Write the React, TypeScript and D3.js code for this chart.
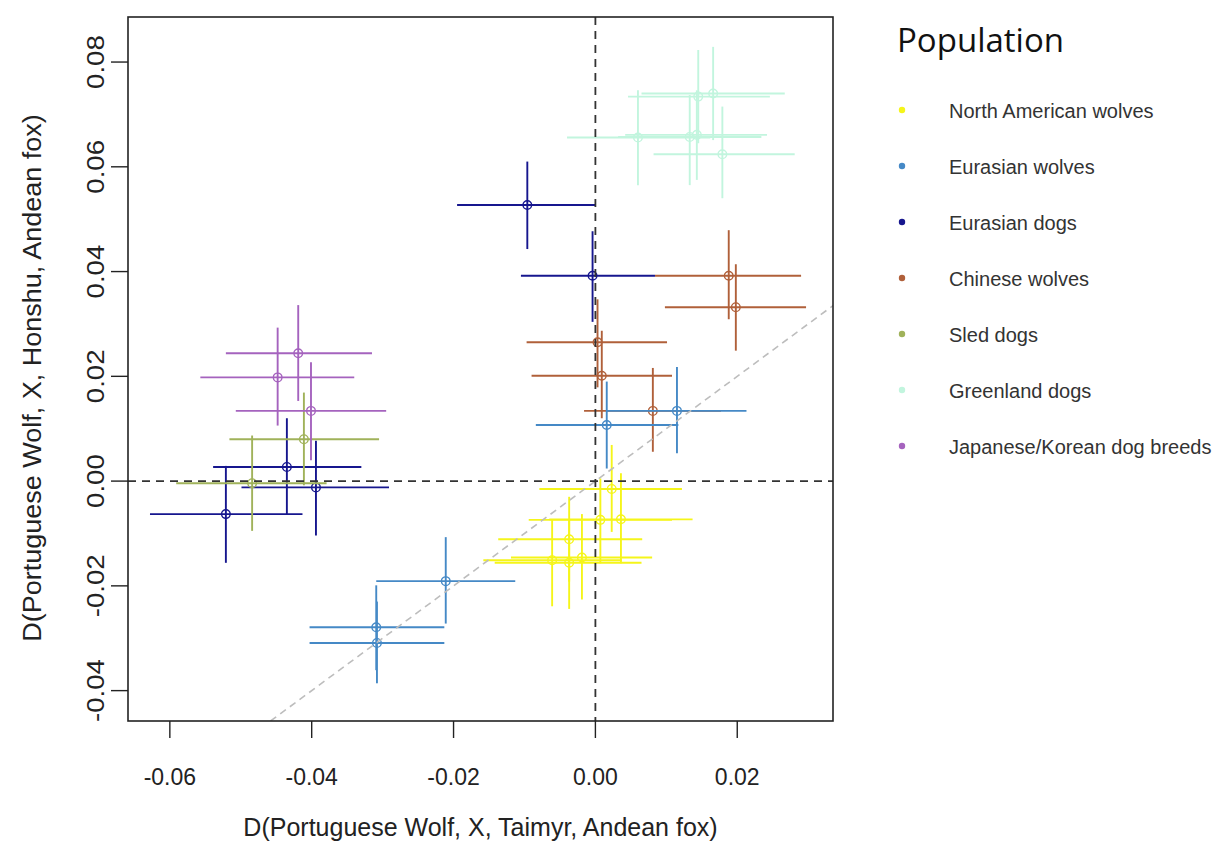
import React from "react";
import * as d3 from "d3";

type P = { x: number; y: number; xlo: number; xhi: number; ylo: number; yhi: number };

const northAmericanWolves: P[] = [
  { x: 0.0023, y: -0.0015, xlo: -0.0079, xhi: 0.0122, ylo: -0.0097, yhi: 0.0069 },
  { x: 0.0007, y: -0.0074, xlo: -0.0094, xhi: 0.0108, ylo: -0.0157, yhi: 0.0005 },
  { x: 0.0036, y: -0.0073, xlo: -0.0065, xhi: 0.0137, ylo: -0.0157, yhi: 0.0015 },
  { x: -0.0037, y: -0.0111, xlo: -0.0137, xhi: 0.0066, ylo: -0.0192, yhi: -0.003 },
  { x: -0.0061, y: -0.0151, xlo: -0.0158, xhi: 0.0037, ylo: -0.0239, yhi: -0.0073 },
  { x: -0.0019, y: -0.0146, xlo: -0.0119, xhi: 0.008, ylo: -0.0226, yhi: -0.0063 },
  { x: -0.0037, y: -0.0156, xlo: -0.0142, xhi: 0.0065, ylo: -0.0244, yhi: -0.0074 },
];

const eurasianWolves: P[] = [
  { x: 0.0115, y: 0.0134, xlo: 0.0016, xhi: 0.0213, ylo: 0.0053, yhi: 0.0218 },
  { x: 0.0016, y: 0.0107, xlo: -0.0084, xhi: 0.0117, ylo: 0.0024, yhi: 0.019 },
  { x: -0.0211, y: -0.0191, xlo: -0.0309, xhi: -0.0113, ylo: -0.0272, yhi: -0.0107 },
  { x: -0.0309, y: -0.0279, xlo: -0.0403, xhi: -0.0213, ylo: -0.0361, yhi: -0.0199 },
  { x: -0.0308, y: -0.0309, xlo: -0.0403, xhi: -0.0213, ylo: -0.0386, yhi: -0.023 },
];

const eurasianDogs: P[] = [
  { x: -0.0096, y: 0.0527, xlo: -0.0195, xhi: 0.0, ylo: 0.0443, yhi: 0.061 },
  { x: -0.0004, y: 0.0392, xlo: -0.0105, xhi: 0.0084, ylo: 0.0304, yhi: 0.0477 },
  { x: -0.0435, y: 0.0027, xlo: -0.0539, xhi: -0.033, ylo: -0.0063, yhi: 0.012 },
  { x: -0.0394, y: -0.0012, xlo: -0.0499, xhi: -0.0291, ylo: -0.0104, yhi: 0.0077 },
  { x: -0.0521, y: -0.0063, xlo: -0.0628, xhi: -0.0413, ylo: -0.0156, yhi: 0.0029 },
];

const chineseWolves: P[] = [
  { x: 0.0188, y: 0.0392, xlo: 0.0084, xhi: 0.029, ylo: 0.0309, yhi: 0.0479 },
  { x: 0.0198, y: 0.0332, xlo: 0.0098, xhi: 0.0297, ylo: 0.0249, yhi: 0.0414 },
  { x: 0.0003, y: 0.0265, xlo: -0.0097, xhi: 0.0101, ylo: 0.0179, yhi: 0.0347 },
  { x: 0.0009, y: 0.0201, xlo: -0.009, xhi: 0.0108, ylo: 0.012, yhi: 0.0287 },
  { x: 0.0081, y: 0.0134, xlo: -0.0016, xhi: 0.0177, ylo: 0.0056, yhi: 0.0216 },
];

const sledDogs: P[] = [
  { x: -0.0411, y: 0.008, xlo: -0.0516, xhi: -0.0305, ylo: -0.0008, yhi: 0.0169 },
  { x: -0.0484, y: -0.0004, xlo: -0.0591, xhi: -0.0379, ylo: -0.0095, yhi: 0.0087 },
];

const greenlandDogs: P[] = [
  { x: 0.0166, y: 0.074, xlo: 0.0065, xhi: 0.0267, ylo: 0.0651, yhi: 0.0829 },
  { x: 0.0145, y: 0.0734, xlo: 0.0046, xhi: 0.0246, ylo: 0.0645, yhi: 0.0823 },
  { x: 0.006, y: 0.0656, xlo: -0.004, xhi: 0.0162, ylo: 0.0565, yhi: 0.0746 },
  { x: 0.0133, y: 0.0657, xlo: 0.0032, xhi: 0.0234, ylo: 0.0565, yhi: 0.0737 },
  { x: 0.0143, y: 0.0661, xlo: 0.0042, xhi: 0.0242, ylo: 0.0575, yhi: 0.0746 },
  { x: 0.0179, y: 0.0624, xlo: 0.0082, xhi: 0.0281, ylo: 0.054, yhi: 0.0715 },
];

const japaneseKoreanDogs: P[] = [
  { x: -0.0419, y: 0.0244, xlo: -0.0521, xhi: -0.0315, ylo: 0.0153, yhi: 0.0336 },
  { x: -0.0448, y: 0.0198, xlo: -0.0557, xhi: -0.034, ylo: 0.0106, yhi: 0.0293 },
  { x: -0.0401, y: 0.0134, xlo: -0.0507, xhi: -0.0295, ylo: 0.004, yhi: 0.0227 },
];

const populationNames = [
  "North American wolves",
  "Eurasian wolves",
  "Eurasian dogs",
  "Chinese wolves",
  "Sled dogs",
  "Greenland dogs",
  "Japanese/Korean dog breeds",
];
const populationColors = ["#F5F51A", "#4589C6", "#16168E", "#B0603A", "#A0B25A", "#C2F5DE", "#A563BE"];
const populationData = [
  northAmericanWolves,
  eurasianWolves,
  eurasianDogs,
  chineseWolves,
  sledDogs,
  greenlandDogs,
  japaneseKoreanDogs,
];

const xTicks = [-0.06, -0.04, -0.02, 0.0, 0.02];
const yTicks = [-0.04, -0.02, 0.0, 0.02, 0.04, 0.06, 0.08];
const xDomain: [number, number] = [-0.0659, 0.0335];
const yDomain: [number, number] = [-0.0458, 0.0886];

const L = 128, R = 833, T = 17, B = 721;

export default function App() {
  const x = d3.scaleLinear().domain(xDomain).range([L, R]);
  const y = d3.scaleLinear().domain(yDomain).range([B, T]);
  const font = "'Liberation Sans', Arial, sans-serif";
  const drawOrder = [0, 3, 1, 2, 4, 5, 6];

  const d0 = Math.max(xDomain[0], yDomain[0]);
  const d1 = Math.min(xDomain[1], yDomain[1]);

  return (
    <svg width={1217} height={843} style={{ position: "absolute", left: 0, top: 0, background: "#fff" }}>
      <defs>
        <clipPath id="plotclip">
          <rect x={L} y={T} width={R - L} height={B - T} />
        </clipPath>
      </defs>
      <rect x={0} y={0} width={1217} height={843} fill="#fff" />
      <g clipPath="url(#plotclip)">
        {drawOrder.map((gi) =>
          populationData[gi].map((p, i) => (
            <g key={`${gi}-${i}`} stroke={populationColors[gi]} strokeWidth={1.9} fill="none">
              <line x1={x(p.xlo)} x2={x(p.xhi)} y1={y(p.y)} y2={y(p.y)} />
              <line x1={x(p.x)} x2={x(p.x)} y1={y(p.ylo)} y2={y(p.yhi)} />
              <circle cx={x(p.x)} cy={y(p.y)} r={4.3} strokeWidth={1.4} />
            </g>
          ))
        )}
        <line x1={x(d0)} y1={y(d0)} x2={x(d1)} y2={y(d1)} stroke="#BDBDBD" strokeWidth={1.6} strokeDasharray="7 5" />
        <line x1={x(0)} x2={x(0)} y1={T} y2={B} stroke="#333" strokeWidth={1.8} strokeDasharray="8 6" />
        <line x1={L} x2={R} y1={y(0)} y2={y(0)} stroke="#333" strokeWidth={1.8} strokeDasharray="8 6" />
      </g>
      <rect x={L} y={T} width={R - L} height={B - T} fill="none" stroke="#222" strokeWidth={1.6} />

      {xTicks.map((t) => (
        <g key={`xt${t}`}>
          <line x1={x(t)} x2={x(t)} y1={B} y2={B + 17} stroke="#222" strokeWidth={1.4} />
          <text x={x(t)} y={785} textAnchor="middle" fontFamily={font} fontSize={23} fill="#222">
            {t.toFixed(2)}
          </text>
        </g>
      ))}
      {yTicks.map((t) => (
        <g key={`yt${t}`}>
          <line x1={L - 17} x2={L} y1={y(t)} y2={y(t)} stroke="#222" strokeWidth={1.4} />
          <text
            transform={`translate(104, ${y(t)}) rotate(-90) scale(1.2,1)`}
            textAnchor="middle"
            fontFamily={font}
            fontSize={23}
            fill="#222"
          >
            {t.toFixed(2)}
          </text>
        </g>
      ))}
      <text x={(L + R) / 2} y={836} textAnchor="middle" fontFamily={font} fontSize={25} fill="#222">
        D(Portuguese Wolf, X, Taimyr, Andean fox)
      </text>
      <text
        transform={`translate(41, ${(T + B) / 2 + 9}) rotate(-90) scale(1.08,1)`}
        textAnchor="middle"
        fontFamily={font}
        fontSize={25}
        fill="#222"
      >
        D(Portuguese Wolf, X, Honshu, Andean fox)
      </text>

      <text x={897} y={52} fontFamily="'Open Sans', sans-serif" fontSize={33} fill="#111">
        Population
      </text>
      {populationNames.map((n, i) => (
        <g key={n}>
          <circle cx={902} cy={110 + i * 56} r={3.2} fill={populationColors[i]} />
          <text x={949} y={118 + i * 56} fontFamily={font} fontSize={20} fill="#333">
            {n}
          </text>
        </g>
      ))}
    </svg>
  );
}
